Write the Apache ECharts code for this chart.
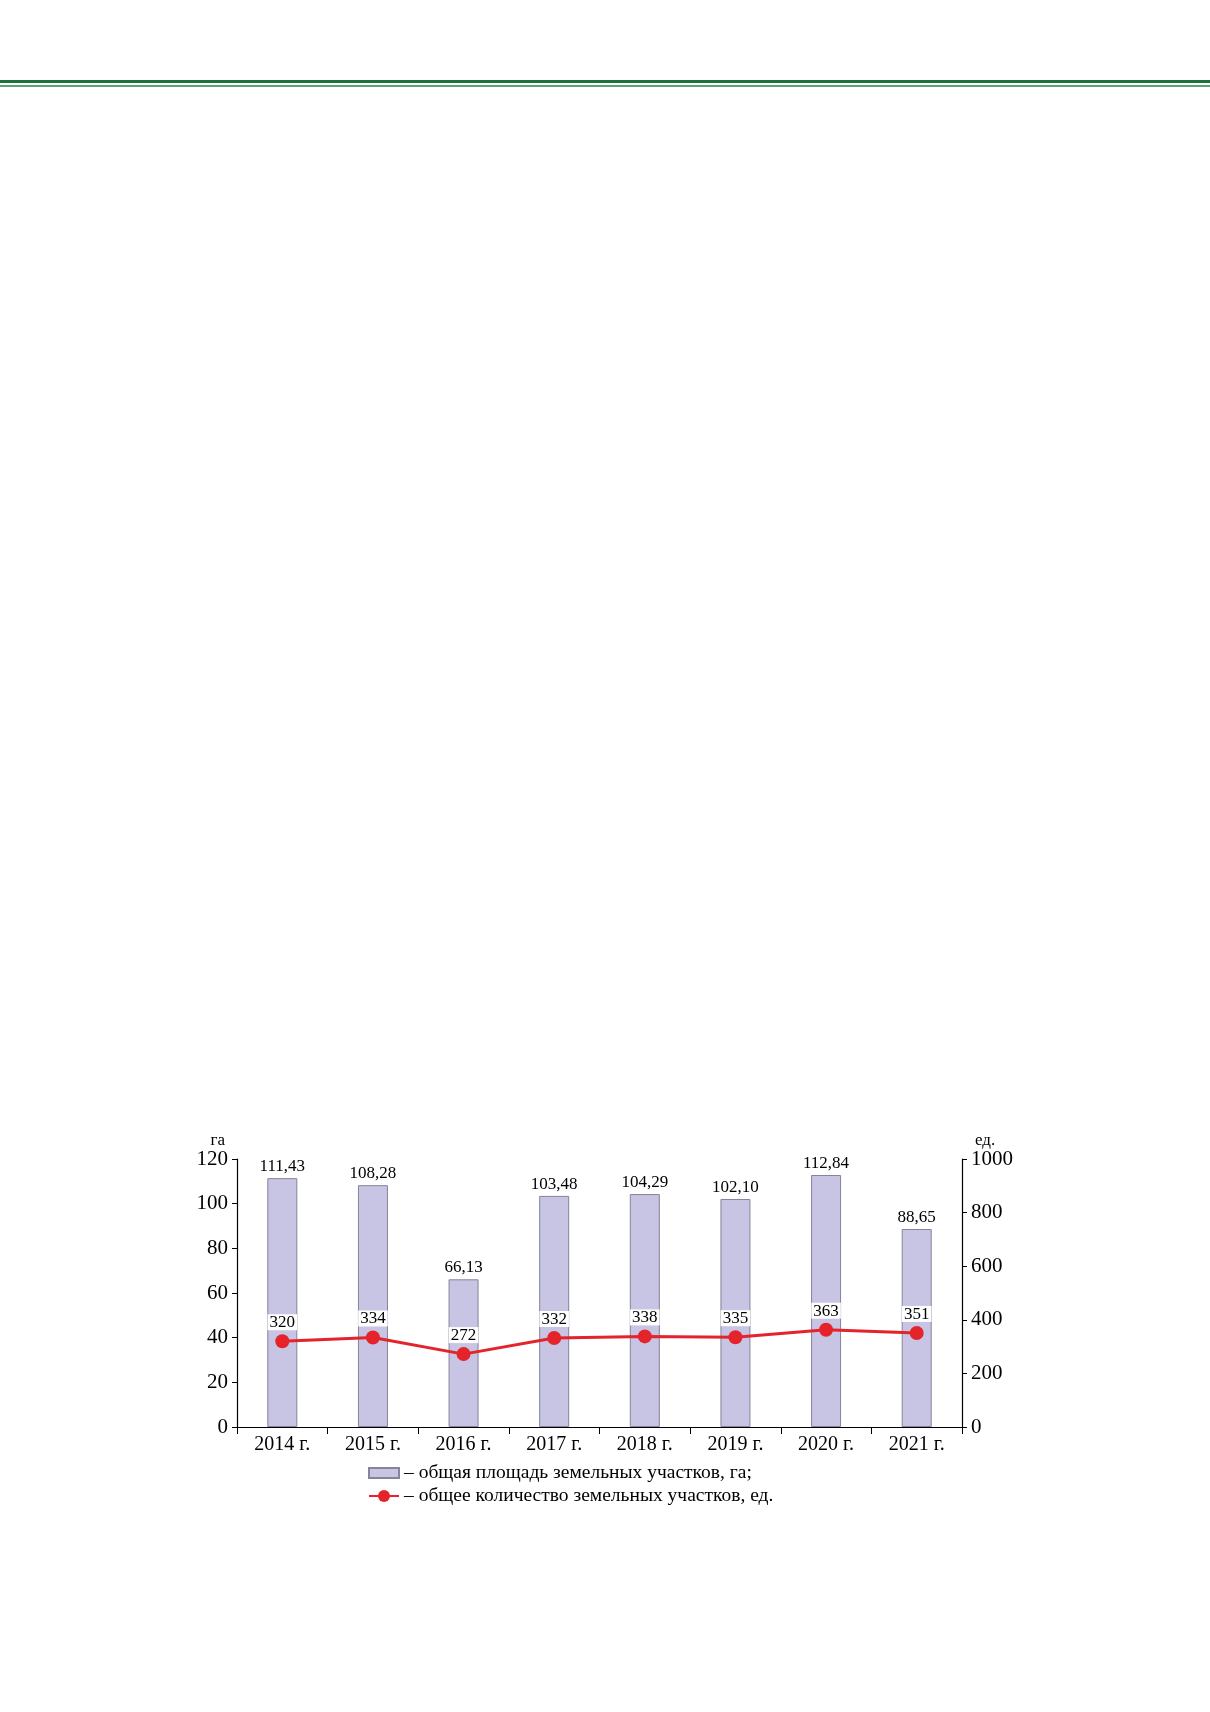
<!DOCTYPE html>
<html>
<head>
<meta charset="utf-8">
<script src="https://cdn.jsdelivr.net/npm/echarts@6/dist/echarts.min.js"></script>
<style>
html,body{margin:0;padding:0;background:#fff;}
#top1{position:absolute;left:0;top:80px;width:1210px;height:3px;background:#1b703b;}
#top2{position:absolute;left:0;top:85px;width:1210px;height:1.5px;background:#5e9f71;}
#chart{position:absolute;left:0;top:0;width:1210px;height:1712px;}
</style>
</head>
<body>
<div id="top1"></div><div id="top2"></div>
<div id="chart"></div>
<script>
const categories = ['2014 г.', '2015 г.', '2016 г.', '2017 г.', '2018 г.', '2019 г.', '2020 г.', '2021 г.'];
const areaValues = [111.43, 108.28, 66.13, 103.48, 104.29, 102.10, 112.84, 88.65];
const countValues = [320, 334, 272, 332, 338, 335, 363, 351];
const leftTicks = { min: 0, max: 120, interval: 20 };
const rightTicks = { min: 0, max: 1000, interval: 200 };
const areaName = 'общая площадь земельных участков, га;';
const countName = 'общее количество земельных участков, ед.';

const FONT = '"Liberation Serif", "DejaVu Serif", serif';
const legendText = { fontFamily: FONT, fontSize: 19.5, color: '#000', padding: [0, 0, 0, 0] };
const chart = echarts.init(document.getElementById('chart'), null, { renderer: 'canvas' });
chart.setOption({
  animation: false,
  textStyle: { fontFamily: FONT, color: '#000' },
  grid: { left: 237, right: 248, top: 1159, bottom: 285 },
  legend: [
    {
      left: 363, top: 1458,
      icon: 'rect',
      itemWidth: 30, itemHeight: 10, itemGap: 0,
      textStyle: legendText,
      formatter: function (n) { return '– ' + n; },
      data: [areaName]
    },
    {
      left: 363, top: 1481,
      itemWidth: 30, itemHeight: 15, itemGap: 0,
      textStyle: legendText,
      formatter: function (n) { return '– ' + n; },
      data: [countName]
    }
  ],
  xAxis: {
    type: 'category',
    data: categories,
    axisLine: { lineStyle: { color: '#000', width: 1.2 } },
    axisTick: { show: true, length: 7, lineStyle: { color: '#000' } },
    axisLabel: { fontFamily: FONT, fontSize: 20, color: '#000', margin: 8 }
  },
  yAxis: [
    {
      type: 'value', min: leftTicks.min, max: leftTicks.max, interval: leftTicks.interval,
      name: 'га', nameLocation: 'end', nameGap: 8,
      nameTextStyle: { fontFamily: FONT, fontSize: 17, color: '#000', align: 'right', padding: [0, 12, 0, 0] },
      axisLine: { show: true, lineStyle: { color: '#000', width: 1.2 } },
      axisTick: { show: true, length: 5, lineStyle: { color: '#000' } },
      axisLabel: { fontFamily: FONT, fontSize: 21, color: '#000', margin: 9, formatter: function (v) { return String(v); } },
      splitLine: { show: false }
    },
    {
      type: 'value', min: rightTicks.min, max: rightTicks.max, interval: rightTicks.interval,
      name: 'ед.', nameLocation: 'end', nameGap: 8,
      nameTextStyle: { fontFamily: FONT, fontSize: 17, color: '#000', align: 'left', padding: [0, 0, 0, 13] },
      axisLine: { show: true, lineStyle: { color: '#000', width: 1.2 } },
      axisTick: { show: true, length: 5, lineStyle: { color: '#000' } },
      axisLabel: { fontFamily: FONT, fontSize: 21, color: '#000', margin: 9, formatter: function (v) { return String(v); } },
      splitLine: { show: false }
    }
  ],
  series: [
    {
      name: areaName,
      type: 'bar',
      yAxisIndex: 0,
      data: areaValues,
      barWidth: 30,
      itemStyle: { color: '#c7c5e3', borderColor: '#84849a', borderWidth: 1 },
      label: {
        show: true, position: 'top', distance: 3,
        fontFamily: FONT, fontSize: 17, color: '#000',
        formatter: function (p) { return p.value.toFixed(2).replace('.', ','); }
      },
      z: 2
    },
    {
      name: countName,
      type: 'line',
      yAxisIndex: 1,
      data: countValues,
      symbol: 'circle',
      symbolSize: 14,
      lineStyle: { color: '#e5232b', width: 3 },
      itemStyle: { color: '#e5232b' },
      label: {
        show: true, position: 'top', distance: 4,
        fontFamily: FONT, fontSize: 17, color: '#000',
        backgroundColor: '#fff', padding: [0, 2, -1, 2]
      },
      z: 3
    }
  ]
});
</script>
</body>
</html>
